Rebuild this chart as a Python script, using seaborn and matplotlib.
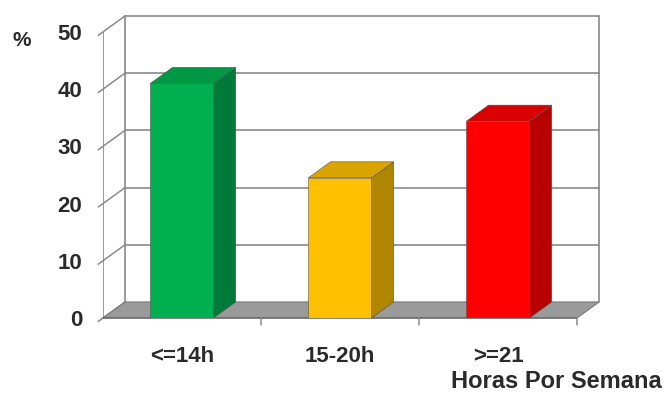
import matplotlib
matplotlib.use("Agg")
import matplotlib.pyplot as plt
from matplotlib.patches import Polygon
import seaborn as sns
import pandas as pd

# Data
categories = ["<=14h", "15-20h", ">=21"]
values = [41.0, 24.5, 34.4]
yticks = [0, 10, 20, 30, 40, 50]
front_colors = ["#00B050", "#FFC000", "#FF0000"]
side_colors = ["#007A38", "#B08600", "#B80000"]
top_colors = ["#009844", "#D9A300", "#D80000"]

sns.set_theme(style="white")
plt.rcParams["font.family"] = ["Liberation Sans", "DejaVu Sans"]
plt.rcParams["font.weight"] = "bold"

fig = plt.figure(figsize=(6.64, 3.96), dpi=100)
ax = fig.add_axes([0.1551, 0.197, 0.752, 0.773])

# 3-D depth offset in data units
DX, DY = 0.14, 2.8
BW = 0.4
YMAX = 50
n = len(categories)
grid_c = "#8a8a8a"
txt_c = "#2a2a2a"

# front faces of the columns
df = pd.DataFrame({"cat": categories, "val": values})
sns.barplot(data=df, x="cat", y="val", hue="cat", palette=front_colors, width=BW,
            legend=False, ax=ax, saturation=1, edgecolor="#555555", linewidth=0.4, zorder=3)

ax.set_xlim(-0.5, n - 0.5 + DX + 0.02)
ax.set_ylim(0, YMAX + DY + 0.7)

# floor
floor = Polygon([(-0.5, 0), (n - 0.5, 0), (n - 0.5 + DX, DY), (-0.5 + DX, DY)],
                closed=True, facecolor="#9a9a9a", edgecolor="#7a7a7a", lw=0.8, zorder=1)
ax.add_patch(floor)

# back wall: gridlines, edges, depth lines, ticks
for t in yticks:
    if t > 0:
        ax.plot([-0.5 + DX, n - 0.5 + DX], [t + DY, t + DY], color=grid_c, lw=1.2, zorder=0.5)
    ax.plot([-0.5 - 0.03, -0.5 + DX], [t - 0.6, t + DY], color=grid_c, lw=1.1,
            zorder=0.6, clip_on=False)
ax.plot([-0.5 + DX] * 2, [DY, YMAX + DY], color=grid_c, lw=1.2, zorder=0.5)
ax.plot([n - 0.5 + DX] * 2, [DY, YMAX + DY], color=grid_c, lw=1.2, zorder=0.5)
ax.plot([-0.5, -0.5], [0, YMAX], color=grid_c, lw=1.2, zorder=0.6)
# x axis line and category separators
ax.plot([-0.5, n - 0.5], [0, 0], color="#6a6a6a", lw=1.2, zorder=1.2, clip_on=False)
for b in range(n):
    ax.plot([b + 0.5, b + 0.5], [0, -1.3], color=grid_c, lw=1.1, clip_on=False)

# side and top faces from the same values
for i, v in enumerate(values):
    l, r = i - BW / 2, i + BW / 2
    side = Polygon([(r, 0), (r + DX, DY), (r + DX, v + DY), (r, v)],
                   facecolor=side_colors[i], edgecolor="#555555", lw=0.4, zorder=3)
    top = Polygon([(l, v), (r, v), (r + DX, v + DY), (l + DX, v + DY)],
                  facecolor=top_colors[i], edgecolor="#555555", lw=0.4, zorder=3)
    ax.add_patch(side)
    ax.add_patch(top)

for s in ax.spines.values():
    s.set_visible(False)
ax.grid(False)
ax.set_xlabel("")
ax.set_ylabel("")
ax.set_yticks(yticks)
ax.set_yticklabels([str(t) for t in yticks])
ax.set_xticks(range(n))
ax.set_xticklabels(categories)
ax.tick_params(axis="y", length=0, pad=15, labelsize=16, labelcolor=txt_c)
ax.tick_params(axis="x", length=0, pad=20, labelsize=16, labelcolor=txt_c)
for lab in ax.get_xticklabels() + ax.get_yticklabels():
    lab.set_fontweight("bold")

fig.text(22 / 664, 1 - 40 / 396, "%", ha="center", va="center", fontsize=15,
         fontweight="bold", color=txt_c)
fig.text(662 / 664, 1 - 381 / 396, "Horas Por Semana", ha="right", va="center",
         fontsize=17, fontweight="bold", color=txt_c)

fig.savefig("out.png", dpi=100)
